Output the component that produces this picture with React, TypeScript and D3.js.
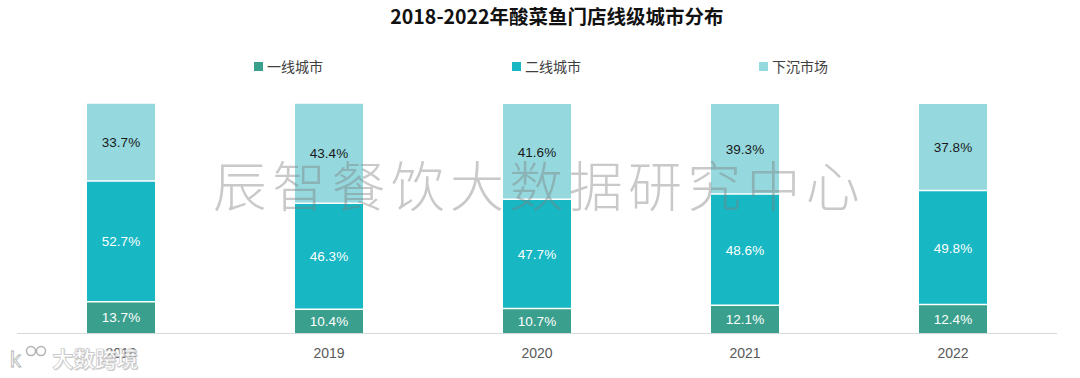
import React from "react";
import * as d3 from "d3";

const years = ["2018", "2019", "2020", "2021", "2022"];
const seriesNames = ["一线城市", "二线城市", "下沉市场"];
const tier1 = [13.7, 10.4, 10.7, 12.1, 12.4];
const tier2 = [52.7, 46.3, 47.7, 48.6, 49.8];
const lower = [33.7, 43.4, 41.6, 39.3, 37.8];
const colors = ["#3a9f8d", "#17b7c3", "#95d9df"];
const labelColors = ["#ffffff", "#ffffff", "#1a1a1a"];

const W = 1080;
const H = 378;

export default function App() {
  const series = [tier1, tier2, lower];
  const rows = years.map((y, i) => ({
    year: y,
    [seriesNames[0]]: tier1[i],
    [seriesNames[1]]: tier2[i],
    [seriesNames[2]]: lower[i],
  }));
  const stack = d3.stack<any>().keys(seriesNames)(rows);
  const x = d3.scaleBand().domain(years).range([17, 1057]).paddingInner(0.673).paddingOuter(0.3365);
  const y = d3.scaleLinear().domain([0, 100]).range([333, 104]);
  const bw = x.bandwidth();
  const legendX = [254, 512, 759];
  const font = "'Liberation Sans', Arial, sans-serif";
  const cjk = "'Noto Sans CJK SC', sans-serif";
  return (
    <svg width={W} height={H} style={{ position: "absolute", left: 0, top: 0 }}>
      <rect width={W} height={H} fill="#fff" />
      <text x={557} y={24} textAnchor="middle" fontFamily={cjk} fontWeight="bold" fontSize={19.5} fill="#111">
        2018-2022年酸菜鱼门店线级城市分布
      </text>
      {seriesNames.map((n, i) => (
        <g key={n}>
          <rect x={legendX[i]} y={62} width={9} height={9} fill={colors[i]} />
          <text x={legendX[i] + 13} y={72} fontFamily={cjk} fontSize={14} fill="#404040">{n}</text>
        </g>
      ))}
      {stack.map((s, si) => (
        <g key={si}>
          {s.map((d, i) => {
            const x0 = x(years[i])!;
            const top = y(d[1]);
            const bot = y(d[0]);
            return (
              <g key={i}>
                <rect x={x0} y={top} width={bw} height={bot - top} fill={colors[si]} />
                <text x={x0 + bw / 2} y={(top + bot) / 2 + 5} textAnchor="middle" fontFamily={font} fontSize={13.5} fill={labelColors[si]}>
                  {series[si][i].toFixed(1)}%
                </text>
              </g>
            );
          })}
        </g>
      ))}
      {stack.slice(0, 2).map((s, si) => (
        <g key={"sep" + si}>
          {s.map((d, i) => (
            <line key={i} x1={x(years[i])!} x2={x(years[i])! + bw} y1={y(d[1])} y2={y(d[1])} stroke="#fff" strokeWidth={1.5} />
          ))}
        </g>
      ))}
      <line x1={17} x2={1057} y1={333.5} y2={333.5} stroke="#d9d9d9" strokeWidth={1} />
      {years.map((yr) => (
        <text key={yr} x={x(yr)! + bw / 2} y={358} textAnchor="middle" fontFamily={font} fontSize={14} fill="#595959">{yr}</text>
      ))}
      <text x={539} y={207} textAnchor="middle" fontFamily={cjk} fontWeight={300} fontSize={54} fill="#7f7f7f" fillOpacity={0.42} letterSpacing={5.3}>
        辰智餐饮大数据研究中心
      </text>
      <g opacity={0.9}>
        <text x={52} y={367} fontFamily={cjk} fontSize={21.5} fontWeight="bold" fill="#999" opacity={0.5} transform="translate(1,1)">大数跨境</text>
        <text x={52} y={367} fontFamily={cjk} fontSize={21.5} fontWeight="bold" fill="#fff" stroke="#bbb" strokeWidth={0.6}>大数跨境</text>
        <text x={10} y={367} fontFamily={font} fontSize={22} fill="#fff" stroke="#aaa" strokeWidth={0.8}>k</text>
        <circle cx={31} cy={351} r={4.5} fill="none" stroke="#aaa" strokeWidth={1.5} />
        <circle cx={41} cy={351} r={4.5} fill="none" stroke="#aaa" strokeWidth={1.5} />
      </g>
    </svg>
  );
}
